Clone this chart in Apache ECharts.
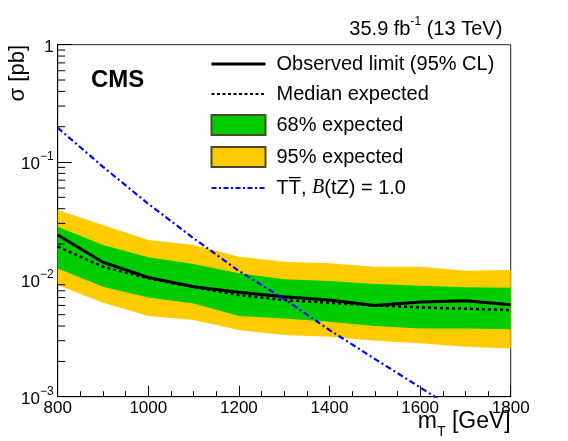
<!DOCTYPE html>
<html><head><meta charset="utf-8">
<script src="https://cdn.jsdelivr.net/npm/echarts@6/dist/echarts.min.js"></script>
<style>html,body{margin:0;padding:0;background:#fff}#c{width:568px;height:441px}</style>
</head><body><div id="c"></div>
<script>
const massGeV = [800, 900, 1000, 1100, 1200, 1300, 1400, 1500, 1600, 1700, 1800];
const observed = [0.0239, 0.0140, 0.0104, 0.00865, 0.00775, 0.0071, 0.00666, 0.0060, 0.0064, 0.00657, 0.00607];
const expected = [0.0190, 0.0128, 0.0102, 0.00855, 0.00735, 0.00666, 0.00632, 0.0060, 0.00577, 0.00562, 0.00547];
const band68Up = [0.0281, 0.0196, 0.0154, 0.0135, 0.01125, 0.0100, 0.00967, 0.00912, 0.00882, 0.00855, 0.00848];
const band68Down = [0.0124, 0.00865, 0.00702, 0.00624, 0.00487, 0.00465, 0.00435, 0.0040, 0.00382, 0.00382, 0.00375];
const band95Up = [0.0390, 0.0290, 0.0216, 0.0196, 0.0156, 0.0141, 0.0137, 0.0128, 0.0128, 0.01184, 0.0120];
const band95Down = [0.00894, 0.00632, 0.00487, 0.0045, 0.0037, 0.00335, 0.00324, 0.0030, 0.00285, 0.00266, 0.00258];
const theoryMass = [800, 900, 1000, 1100, 1200, 1300, 1400, 1500, 1600, 1700];
const theoryXsec = [0.196, 0.091, 0.044, 0.0224, 0.0118, 0.0068, 0.0037, 0.0021, 0.0012, 0.00068];
const yMinorTicks = [0.002, 0.003, 0.004, 0.005, 0.006, 0.007, 0.008, 0.009,
                     0.02, 0.03, 0.04, 0.05, 0.06, 0.07, 0.08, 0.09,
                     0.2, 0.3, 0.4, 0.5, 0.6, 0.7, 0.8, 0.9];
const legendLabels = {
  obs: 'Observed limit (95% CL)',
  exp: 'Median expected',
  b68: '68% expected',
  b95: '95% expected',
  th: 'TT\u0305, {it|B}(tZ) = 1.0'
};

const FONT = '"Liberation Sans", Arial, Helvetica, sans-serif';
const X_MIN = 800, X_MAX = 1800, Y_MIN = 0.001, Y_MAX = 1;

function bandSeries(name, up, down, color) {
  return {
    type: 'custom', name: name, coordinateSystem: 'cartesian2d', silent: true, z: 1,
    itemStyle: { color: color, borderColor: '#4a4a2a', borderWidth: 1 },
    data: massGeV.map((m, i) => [m, down[i], up[i]]),
    encode: { x: 0, y: [1, 2] },
    renderItem: function (params, api) {
      if (params.dataIndex !== 0) return null;
      const pts = [];
      for (let i = 0; i < massGeV.length; i++) pts.push(api.coord([massGeV[i], up[i]]));
      for (let i = massGeV.length - 1; i >= 0; i--) pts.push(api.coord([massGeV[i], down[i]]));
      return { type: 'polygon', shape: { points: pts }, style: { fill: color, stroke: null } };
    }
  };
}

const hideSym = { opacity: 0 };
const chart = echarts.init(document.getElementById('c'), null, { renderer: 'canvas' });
chart.setOption({
  animation: false,
  backgroundColor: '#fff',
  grid: { left: 57.7, right: 57.3, top: 44.7, bottom: 44.3, show: true, borderColor: '#222', borderWidth: 1 },
  xAxis: {
    type: 'value', min: X_MIN, max: X_MAX, interval: 200,
    axisLine: { show: true, onZero: false, lineStyle: { color: '#000', width: 1 } },
    axisTick: { show: true, inside: true, length: 11, lineStyle: { color: '#000', width: 1 } },
    minorTick: { show: true, splitNumber: 4, length: 5.5, lineStyle: { color: '#000', width: 1 } },
    splitLine: { show: false },
    axisLabel: { fontSize: 17, color: '#000', fontFamily: FONT, margin: 3, formatter: v => String(v) }
  },
  yAxis: {
    type: 'log', logBase: 10, min: Y_MIN, max: Y_MAX,
    axisLine: { show: true, lineStyle: { color: '#000', width: 1 } },
    axisTick: { show: true, inside: true, length: 14, lineStyle: { color: '#000', width: 1 } },
    splitLine: { show: false },
    axisLabel: {
      color: '#000', fontFamily: FONT, fontSize: 17, margin: 4,
      formatter: function (v) {
        const e = Math.round(Math.log10(v));
        if (e === 0) return '{b|1}';
        return '{b|10}{sup|\u2212' + (-e) + '}';
      },
      rich: {
        b: { fontSize: 17, fontFamily: FONT, color: '#000', lineHeight: 22, verticalAlign: 'bottom' },
        sup: { fontSize: 12, fontFamily: FONT, color: '#000', lineHeight: 22, verticalAlign: 'top' }
      }
    }
  },
  legend: {
    orient: 'vertical', left: 205, top: 49, itemWidth: 54, itemHeight: 20, itemGap: 10,
    selectedMode: false,
    textStyle: {
      fontSize: 20, fontFamily: FONT, color: '#000', padding: [0, 0, 0, 6], lineHeight: 20,
      rich: { it: { fontSize: 20, lineHeight: 20, fontStyle: 'italic', fontFamily: '"Liberation Serif", "DejaVu Serif", serif', color: '#000' } }
    },
    formatter: function (n) { return legendLabels[n]; },
    data: [
      { name: 'obs', itemStyle: hideSym, lineStyle: { width: 3, color: '#000' } },
      { name: 'exp', itemStyle: hideSym, lineStyle: { width: 2, color: '#000', type: [3, 2.5] } },
      { name: 'b68', icon: 'rect' }, { name: 'b95', icon: 'rect' },
      { name: 'th', itemStyle: hideSym, lineStyle: { width: 2, color: '#0000ff', type: [5, 2.5, 2, 2.5] } }
    ]
  },
  graphic: [
    { type: 'text', x: 91, y: 80.5, style: { text: 'CMS', fill: '#000', font: 'bold 24px ' + FONT, align: 'left', verticalAlign: 'middle' } },
    { type: 'text', x: 502.3, y: 29, style: {
        text: '35.9 fb{sup|-1} (13 TeV)', fill: '#000', fontSize: 20, fontFamily: FONT, align: 'right', verticalAlign: 'middle',
        rich: { sup: { fontSize: 12, fontFamily: FONT, verticalAlign: 'top', lineHeight: 26 } }
      } },
    { type: 'text', x: 18, y: 45, rotation: Math.PI / 2, style: {
        text: '\u03c3 [pb]', fill: '#000', fontSize: 22, fontFamily: FONT, align: 'right', verticalAlign: 'middle'
      } },
    { type: 'text', x: 510.7, y: 422, style: {
        text: 'm{sub|T} [GeV]', fill: '#000', fontSize: 23, fontFamily: FONT, align: 'right', verticalAlign: 'middle',
        rich: { sub: { fontSize: 14, fontFamily: FONT, verticalAlign: 'bottom', lineHeight: 34 } }
      } }
  ],
  series: [
    bandSeries('b95', band95Up, band95Down, '#ffcc00'),
    bandSeries('b68', band68Up, band68Down, '#00cc00'),
    {
      type: 'line', name: 'exp', data: massGeV.map((m, i) => [m, expected[i]]),
      symbol: 'none', z: 3, silent: true, clip: true,
      lineStyle: { color: '#000', width: 2.5, type: [3, 3] }, itemStyle: { color: '#000' }
    },
    {
      type: 'line', name: 'obs', data: massGeV.map((m, i) => [m, observed[i]]),
      symbol: 'none', z: 4, silent: true, clip: true,
      lineStyle: { color: '#000', width: 3 }, itemStyle: { color: '#000' }
    },
    {
      type: 'line', name: 'th', data: theoryMass.map((m, i) => [m, theoryXsec[i]]),
      symbol: 'none', z: 5, silent: true, clip: true,
      lineStyle: { color: '#0000ff', width: 2.2, type: [6, 3, 2, 3] }, itemStyle: { color: '#0000ff' }
    },
    {
      type: 'custom', name: 'yminor', silent: true, z: 6, clip: false,
      data: yMinorTicks.map(v => [X_MIN, v]),
      encode: { x: 0, y: 1 },
      renderItem: function (params, api) {
        const p = api.coord([api.value(0), api.value(1)]);
        return { type: 'line', shape: { x1: p[0], y1: p[1], x2: p[0] + 7.5, y2: p[1] }, style: { stroke: '#000', lineWidth: 1 } };
      }
    }
  ]
});
</script></body></html>
